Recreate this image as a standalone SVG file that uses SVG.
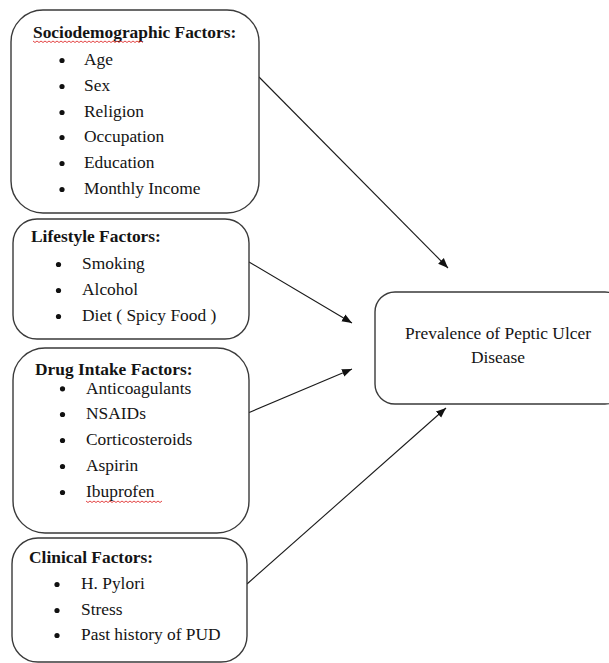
<svg xmlns="http://www.w3.org/2000/svg" width="609" height="663" viewBox="0 0 609 663">
<defs>
<marker id="arr" viewBox="0 0 10 10" refX="10" refY="5" markerWidth="10" markerHeight="10" markerUnits="userSpaceOnUse" orient="auto">
<path d="M0,1 L10,5 L0,9 z" fill="#111"/>
</marker>
</defs>
<style>
.box{fill:#fff;stroke:#3a3a3a;stroke-width:1.4}
.t{font-family:"Liberation Serif","Times New Roman",serif;font-size:17.4px;fill:#141414}
.b{font-weight:bold}
.c{text-anchor:middle}
.bl{fill:#111}
.edge{stroke:#1a1a1a;stroke-width:1.1;fill:none;marker-end:url(#arr)}
.sq{stroke:#e03030;stroke-width:0.9;fill:none}
</style>
<rect width="609" height="663" fill="#fff"/>
<g id="connectors">
<line class="edge" x1="259" y1="77" x2="448" y2="268"/>
<line class="edge" x1="249" y1="262" x2="352" y2="323"/>
<line class="edge" x1="248" y1="413" x2="352" y2="369"/>
<line class="edge" x1="247" y1="584" x2="446" y2="408"/>
</g>
<g id="sociodemographic">
<rect class="box" x="11" y="10" width="248" height="203" rx="32"/>
<text class="t b" x="33" y="38">Sociodemographic Factors:</text>
<path class="sq" d="M33,41 l2,1.5 l2,-1.5 l2,1.5 l2,-1.5 l2,1.5 l2,-1.5 l2,1.5 l2,-1.5 l2,1.5 l2,-1.5 l2,1.5 l2,-1.5 l2,1.5 l2,-1.5 l2,1.5 l2,-1.5 l2,1.5 l2,-1.5 l2,1.5 l2,-1.5 l2,1.5 l2,-1.5 l2,1.5 l2,-1.5 l2,1.5 l2,-1.5 l2,1.5 l2,-1.5 l2,1.5 l2,-1.5 l2,1.5 l2,-1.5 l2,1.5 l2,-1.5 l2,1.5 l2,-1.5 l2,1.5 l2,-1.5 l2,1.5 l2,-1.5 l2,1.5 l2,-1.5 l2,1.5 l2,-1.5 l2,1.5 l2,-1.5 l2,1.5 l2,-1.5 l2,1.5 l2,-1.5 l2,1.5 l2,-1.5 l2,1.5 l2,-1.5 l2,1.5"/>
<circle class="bl" cx="62" cy="60.5" r="2.6"/><text class="t" x="84" y="65">Age</text>
<circle class="bl" cx="62" cy="86.5" r="2.6"/><text class="t" x="84" y="91">Sex</text>
<circle class="bl" cx="62" cy="112.5" r="2.6"/><text class="t" x="84" y="117">Religion</text>
<circle class="bl" cx="62" cy="137.5" r="2.6"/><text class="t" x="84" y="142">Occupation</text>
<circle class="bl" cx="62" cy="163.5" r="2.6"/><text class="t" x="84" y="168">Education</text>
<circle class="bl" cx="62" cy="189.5" r="2.6"/><text class="t" x="84" y="194">Monthly Income</text>
</g>
<g id="lifestyle">
<rect class="box" x="13" y="219" width="236" height="120" rx="24"/>
<text class="t b" x="31" y="242">Lifestyle Factors:</text>
<circle class="bl" cx="58.5" cy="264.5" r="2.6"/><text class="t" x="82" y="269">Smoking</text>
<circle class="bl" cx="58.5" cy="290.5" r="2.6"/><text class="t" x="82" y="295">Alcohol</text>
<circle class="bl" cx="58.5" cy="316.5" r="2.6"/><text class="t" x="82" y="321">Diet ( Spicy Food )</text>
</g>
<g id="drug">
<rect class="box" x="13" y="348" width="236" height="185" rx="32"/>
<text class="t b" x="35" y="374.5">Drug Intake Factors:</text>
<circle class="bl" cx="62.5" cy="388.8" r="2.6"/><text class="t" x="86" y="393.8">Anticoagulants</text>
<circle class="bl" cx="62.5" cy="414.5" r="2.6"/><text class="t" x="86" y="419">NSAIDs</text>
<circle class="bl" cx="62.5" cy="440.5" r="2.6"/><text class="t" x="86" y="445">Corticosteroids</text>
<circle class="bl" cx="62.5" cy="466.5" r="2.6"/><text class="t" x="86" y="471">Aspirin</text>
<circle class="bl" cx="62.5" cy="492.5" r="2.6"/><text class="t" x="86" y="497">Ibuprofen</text>
<path class="sq" d="M86,501 l2,1.5 l2,-1.5 l2,1.5 l2,-1.5 l2,1.5 l2,-1.5 l2,1.5 l2,-1.5 l2,1.5 l2,-1.5 l2,1.5 l2,-1.5 l2,1.5 l2,-1.5 l2,1.5 l2,-1.5 l2,1.5 l2,-1.5 l2,1.5 l2,-1.5 l2,1.5 l2,-1.5 l2,1.5 l2,-1.5 l2,1.5 l2,-1.5 l2,1.5 l2,-1.5 l2,1.5 l2,-1.5 l2,1.5 l2,-1.5 l2,1.5 l2,-1.5 l2,1.5 l2,-1.5 l2,1.5 l2,-1.5"/>
</g>
<g id="clinical">
<rect class="box" x="12" y="538" width="235" height="124" rx="26"/>
<text class="t b" x="29" y="563">Clinical Factors:</text>
<circle class="bl" cx="57" cy="584.5" r="2.6"/><text class="t" x="81" y="589">H. Pylori</text>
<circle class="bl" cx="57" cy="610.5" r="2.6"/><text class="t" x="81" y="615">Stress</text>
<circle class="bl" cx="57" cy="635.5" r="2.6"/><text class="t" x="81" y="640">Past history of PUD</text>
</g>
<g id="prevalence">
<rect class="box" x="375" y="292" width="250" height="112" rx="20"/>
<text class="t c" x="498" y="339">Prevalence of Peptic Ulcer</text>
<text class="t c" x="498" y="363">Disease</text>
</g>
</svg>
